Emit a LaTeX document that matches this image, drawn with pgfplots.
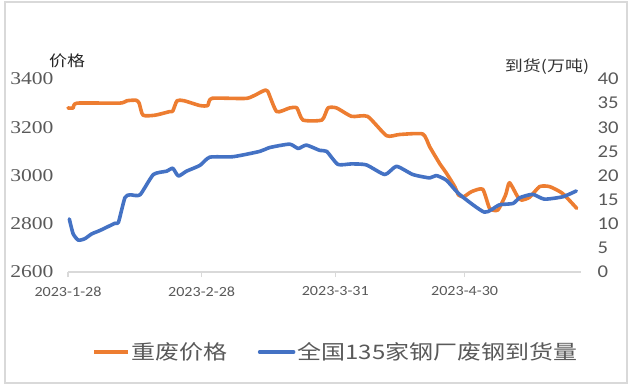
\documentclass[border=0pt]{standalone}
\usepackage{pgfplots}
\pgfplotsset{compat=1.18}
\usepackage{fontspec}
\newfontfamily\cjk[FakeStretch=1.2]{Noto Sans CJK SC}
\newfontfamily\serifnum[FakeStretch=1.2]{Liberation Serif}
\newfontfamily\sansnum[FakeStretch=1.15]{Carlito}
\definecolor{cOrange}{HTML}{ED7D31}
\definecolor{cBlue}{HTML}{4472C4}
\definecolor{tickgray}{HTML}{595959}
\definecolor{axgray}{HTML}{D9D9D9}
\begin{document}
\begin{tikzpicture}[x=1bp,y=1bp]
\useasboundingbox (0,0) rectangle (633,388);
\draw[axgray, line width=1.2bp] (5,5) rectangle (627,386);
\node[font=\cjk\fontsize{15bp}{15bp}\selectfont, text=black!85] at (67,327) {价格};
\node[font=\cjk\fontsize{15bp}{15bp}\selectfont, text=black!80] at (547,321) {到货(万吨)};
\begin{axis}[
  at={(68bp,116bp)}, anchor=south west,
  scale only axis, width=513bp, height=193bp,
  xmin=0, xmax=119, ymin=2600, ymax=3400,
  axis x line*=bottom, axis y line*=left,
  x axis line style={draw=axgray, line width=1.2bp, -},
  y axis line style={draw=none},
  xtick={0,31,62,92}, xticklabels={2023-1-28,2023-2-28,2023-3-31,2023-4-30},
  xtick style={draw=axgray, line width=1.2bp},
  major tick length=5bp,
  xtick align=outside,
  ytick={2600,2800,3000,3200,3400},
  ytick style={draw=none},
  xticklabel style={font=\sansnum\fontsize{14bp}{14bp}\selectfont, text=tickgray, yshift=-6bp},
  yticklabel style={font=\serifnum\fontsize{18bp}{18bp}\selectfont, text=tickgray, xshift=-11bp},
  /pgf/number format/assume math mode=true,
  /pgf/number format/1000 sep={},
  clip=false,
]
\addplot[cOrange, line width=3.6bp, smooth, tension=0.35, line join=round, line cap=round] coordinates {
(0,3280) (1.2,3280) (2.1,3300) (12,3300) (13.7,3310) (15.8,3312) (16.5,3300)
(17.4,3250) (20.2,3250) (23.6,3265) (24.3,3267) (25.3,3310) (26.9,3310)
(30.6,3290) (32.4,3290) (33.4,3320) (41.5,3320) (45.2,3350) (46.3,3350)
(48.4,3265) (51.4,3280) (53.1,3280) (54.5,3230) (58.9,3230) (60.3,3280)
(62.3,3280) (65.8,3245) (69.5,3245) (73.9,3165) (76.9,3170) (82.3,3172)
(83.9,3119) (86.2,3050) (87.8,3009) (89.7,2954) (90.6,2919) (91.8,2912)
(93.6,2933) (96.2,2943) (97.8,2864) (99.7,2857) (101.5,2919) (102.4,2970)
(104.3,2912) (105.2,2898) (107.1,2910) (109.4,2954) (111.7,2954) (114.7,2926)
(118,2864)
};
\end{axis}
\begin{axis}[
  at={(68bp,116bp)}, anchor=south west,
  scale only axis, width=513bp, height=193bp,
  xmin=0, xmax=119, ymin=0, ymax=40,
  axis x line=none, axis y line*=right,
  y axis line style={draw=none},
  ytick={0,5,...,40},
  ytick style={draw=none},
  yticklabel style={font=\sansnum\fontsize{18bp}{18bp}\selectfont, text=tickgray, anchor=west, xshift=13bp},
  /pgf/number format/assume math mode=true,
  clip=false,
  legend style={at={(0.522,-0.415)}, anchor=center, draw=none, fill=none,
    legend columns=2, font=\cjk\fontsize{20bp}{20bp}\selectfont, text=tickgray,
    /tikz/every even column/.append style={column sep=28bp}},
  legend image code/.code={\draw[#1] (0bp,0bp) -- (34bp,0bp);},
]
\addlegendimage{cOrange, line width=3.6bp}
\addlegendentry{重废价格}
\addplot[cBlue, line width=3.6bp, smooth, tension=0.35, line join=round, line cap=round] coordinates {
(0.3,11.0) (1.2,7.9) (2.4,6.6) (3.9,6.9) (5.5,7.9) (7.4,8.6) (10.9,10.1)
(11.7,10.3) (13.2,15.4) (14.4,16.0) (16.7,16.0) (19.8,20.2) (22.9,20.9)
(24.3,21.5) (25.6,19.9) (27.5,20.9) (30.6,22.1) (32.9,23.8) (38.3,23.9)
(44.5,25.0) (46.8,25.8) (51.4,26.5) (53.4,25.6) (55.3,26.3) (58.4,25.2)
(60,25.0) (62.6,22.3) (65.7,22.4) (69.2,22.2) (73.5,20.2) (76.2,21.9)
(80,20.2) (83.9,19.5) (85.4,20.0) (87.8,19.0) (90.8,16.1) (96.6,12.4)
(100,13.9) (103.2,14.2) (104.8,15.4) (107.8,16.1) (110.5,15.1) (114.8,15.6)
(117.9,16.8)
};
\addlegendentry{全国135家钢厂废钢到货量}
\end{axis}
\end{tikzpicture}
\end{document}
